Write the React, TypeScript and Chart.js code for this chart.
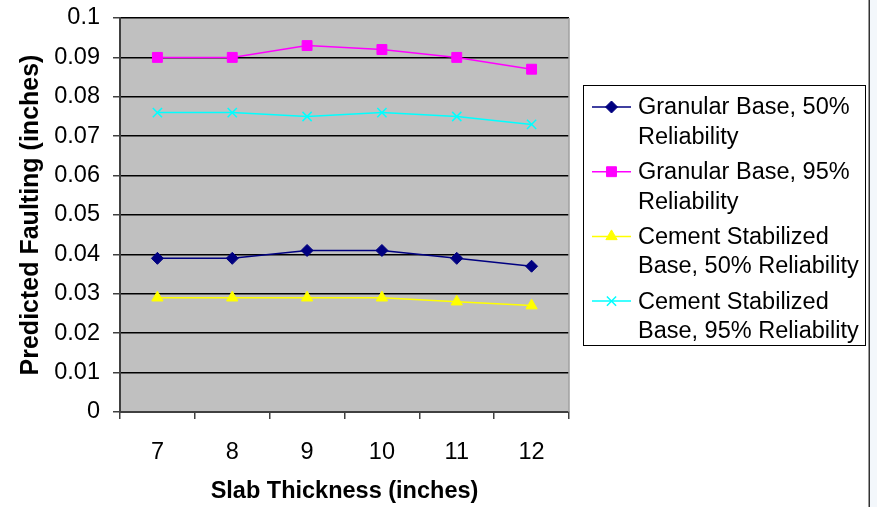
import React, { useEffect, useRef } from "react";
import { Chart, registerables } from "chart.js";

Chart.register(...registerables);

const categories = ["7", "8", "9", "10", "11", "12"];
const granular50 = [0.039, 0.039, 0.041, 0.041, 0.039, 0.037];
const granular95 = [0.09, 0.09, 0.093, 0.092, 0.09, 0.087];
const cement50 = [0.029, 0.029, 0.029, 0.029, 0.028, 0.027];
const cement95 = [0.076, 0.076, 0.075, 0.076, 0.075, 0.073];
const seriesLabels = [
  ["Granular Base, 50%", "Reliability"],
  ["Granular Base, 95%", "Reliability"],
  ["Cement Stabilized", "Base, 50% Reliability"],
  ["Cement Stabilized", "Base, 95% Reliability"],
];
const xTitle = "Slab Thickness (inches)";
const yTitle = "Predicted Faulting (inches)";

const FONT = "'Liberation Sans', Arial, sans-serif";

const bgPlugin = {
  id: "bg",
  beforeDraw(chart: any) {
    const { ctx, width, height, chartArea } = chart;
    ctx.save();
    ctx.fillStyle = "#ffffff";
    ctx.fillRect(0, 0, width, height);
    ctx.fillStyle = "#f3f7fb";
    ctx.fillRect(870, 0, width - 870, height);
    ctx.fillStyle = "#333333";
    ctx.fillRect(868.5, 0, 1.5, height);
    ctx.fillStyle = "#c0c0c0";
    ctx.fillRect(chartArea.left, chartArea.top, chartArea.right - chartArea.left, chartArea.bottom - chartArea.top);
    ctx.restore();
  },
  afterDatasetsDraw(chart: any) {
    const { ctx, chartArea } = chart;
    ctx.save();
    ctx.strokeStyle = "#a0a0a0";
    ctx.lineWidth = 1.5;
    ctx.beginPath();
    ctx.moveTo(chartArea.right, chartArea.top);
    ctx.lineTo(chartArea.right, chartArea.bottom);
    ctx.stroke();
    ctx.restore();
  },
};

function drawMarker(ctx: CanvasRenderingContext2D, ds: any, x: number, y: number) {
  const r = ds.pointRadius;
  ctx.save();
  ctx.fillStyle = ds.pointBackgroundColor;
  ctx.strokeStyle = ds.pointBorderColor;
  ctx.lineWidth = ds.pointBorderWidth ?? 1;
  ctx.beginPath();
  if (ds.pointStyle === "rect") {
    const s = Math.SQRT1_2 * r;
    ctx.rect(x - s, y - s, 2 * s, 2 * s);
    ctx.fill();
    ctx.stroke();
  } else if (ds.pointStyle === "rectRot") {
    ctx.moveTo(x - r, y);
    ctx.lineTo(x, y - r);
    ctx.lineTo(x + r, y);
    ctx.lineTo(x, y + r);
    ctx.closePath();
    ctx.fill();
    ctx.stroke();
  } else if (ds.pointStyle === "triangle") {
    const a = (Math.PI * 2) / 3;
    ctx.moveTo(x, y - r);
    ctx.lineTo(x + Math.sin(a) * r, y - Math.cos(a) * r);
    ctx.lineTo(x - Math.sin(a) * r, y - Math.cos(a) * r);
    ctx.closePath();
    ctx.fill();
    ctx.stroke();
  } else if (ds.pointStyle === "crossRot") {
    const d = Math.SQRT1_2 * r;
    ctx.moveTo(x - d, y - d);
    ctx.lineTo(x + d, y + d);
    ctx.moveTo(x - d, y + d);
    ctx.lineTo(x + d, y - d);
    ctx.stroke();
  }
  ctx.restore();
}

const legendPlugin = {
  id: "customLegend",
  afterDraw(chart: any) {
    const { ctx, chartArea } = chart;
    const boxX = chartArea.right + 14;
    const boxY = 85;
    const boxW = 282;
    const boxH = 260;
    ctx.save();
    ctx.strokeStyle = "#000";
    ctx.lineWidth = 1;
    ctx.strokeRect(boxX + 0.5, boxY + 0.5, boxW, boxH);
    ctx.font = `23.5px ${FONT}`;
    ctx.textBaseline = "middle";
    chart.data.datasets.forEach((ds: any, i: number) => {
      const y0 = boxY + 22 + i * 64.7;
      const lx0 = boxX + 9;
      const lx1 = boxX + 48;
      ctx.strokeStyle = ds.borderColor;
      ctx.lineWidth = 1.5;
      ctx.beginPath();
      ctx.moveTo(lx0, y0);
      ctx.lineTo(lx1, y0);
      ctx.stroke();
      drawMarker(ctx, ds, (lx0 + lx1) / 2, y0);
      ctx.fillStyle = "#000";
      seriesLabels[i].forEach((t, j) => {
        ctx.fillText(t, boxX + 55, y0 + 1 + j * 29.5);
      });
    });
    ctx.restore();
  },
};

export default function App() {
  const ref = useRef<HTMLCanvasElement>(null);
  useEffect(() => {
    if (!ref.current) return;
    const mk = (label: string, data: number[], color: string, style: string, radius: number, bw = 1) => ({
      label,
      data,
      borderColor: color,
      backgroundColor: color,
      borderWidth: 1.5,
      pointStyle: style,
      pointRadius: radius,
      pointBackgroundColor: color,
      pointBorderColor: color,
      pointBorderWidth: bw,
      tension: 0,
    });
    const chart = new Chart(ref.current, {
      type: "line",
      data: {
        labels: categories,
        datasets: [
          mk(seriesLabels[0].join(" "), granular50, "#000080", "rectRot", 6),
          mk(seriesLabels[1].join(" "), granular95, "#ff00ff", "rect", 7),
          mk(seriesLabels[2].join(" "), cement50, "#ffff00", "triangle", 6.5),
          mk(seriesLabels[3].join(" "), cement95, "#00ffff", "crossRot", 6.5, 1.5),
        ] as any,
      },
      options: {
        animation: false,
        responsive: false,
        layout: { padding: { left: 0, top: 18, right: 308, bottom: 0 } },
        plugins: { legend: { display: false }, tooltip: { enabled: false } },
        scales: {
          x: {
            offset: true,
            grid: { offset: true, drawOnChartArea: false, tickLength: 7, color: "#404040", lineWidth: 1.5 },
            border: { display: true, color: "#404040", width: 2 },
            ticks: { font: { family: FONT, size: 23.5 }, color: "#000", padding: 19, maxRotation: 0 },
            title: {
              display: true,
              text: xTitle,
              font: { family: FONT, size: 23.5, weight: "bold" },
              color: "#000",
              padding: { top: 0, bottom: 1 },
            },
            afterFit: (s: any) => {
              s.height = 95;
              s.paddingLeft = 0;
              s.paddingRight = 0;
            },
          },
          y: {
            min: 0,
            max: 0.1,
            ticks: {
              stepSize: 0.01,
              font: { family: FONT, size: 23.5 },
              color: "#000",
              padding: 13,
              callback: (v: any) => String(Number(Number(v).toFixed(2))),
            },
            grid: { color: "#000", lineWidth: 1.5, tickLength: 7, tickColor: "#404040" },
            border: { display: true, color: "#404040", width: 2 },
            title: {
              display: true,
              text: yTitle,
              font: { family: FONT, size: 25, weight: "bold" },
              color: "#000",
              padding: { top: 16, bottom: 0 },
            },
            afterFit: (s: any) => {
              s.width = 120;
              s.paddingTop = 0;
              s.paddingBottom = 0;
            },
          },
        },
      } as any,
      plugins: [bgPlugin, legendPlugin],
    });
    return () => chart.destroy();
  }, []);
  return (
    <div style={{ position: "absolute", left: 0, top: 0, width: 877, height: 507 }}>
      <canvas ref={ref} width={877} height={507} style={{ width: 877, height: 507, display: "block" }} />
    </div>
  );
}
